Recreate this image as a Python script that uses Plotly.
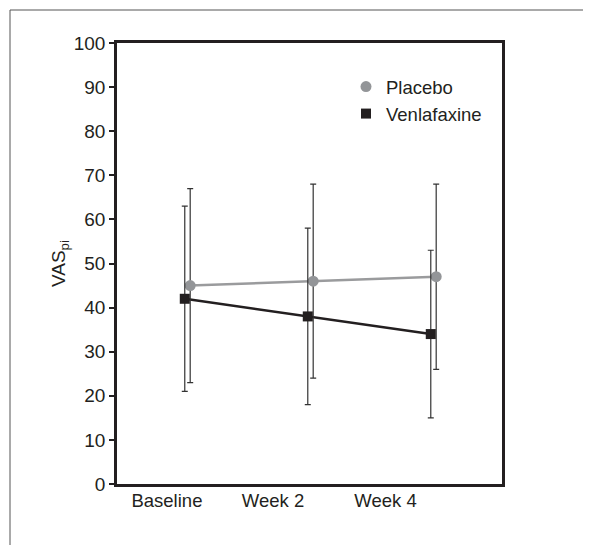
import plotly.graph_objects as go

categories = ["Baseline", "Week 2", "Week 4"]
placebo_mean = [45, 46, 47]
placebo_sd = [22, 22, 21]
venla_mean = [42, 38, 34]
venla_sd = [21, 20, 19]
y_ticks = [0, 10, 20, 30, 40, 50, 60, 70, 80, 90, 100]

pos = [0, 1, 2]
off = 0.022
x_plac = [p + off for p in pos]
x_venl = [p - off for p in pos]
label_pos = [-0.167, 0.695, 1.61]

FONT = "Liberation Sans, Arial, Helvetica, sans-serif"
DARK = "#231f20"
GRAY = "#939598"

fig = go.Figure()
# connecting lines
fig.add_trace(go.Scatter(x=x_plac, y=placebo_mean, mode="lines",
                         line=dict(color="#9a9b9d", width=2.5), showlegend=False, hoverinfo="skip"))
fig.add_trace(go.Scatter(x=x_venl, y=venla_mean, mode="lines",
                         line=dict(color=DARK, width=2.5), showlegend=False, hoverinfo="skip"))
# markers with error bars
fig.add_trace(go.Scatter(x=x_plac, y=placebo_mean, mode="markers", name="Placebo",
                         marker=dict(symbol="circle", size=11, color=GRAY),
                         error_y=dict(type="data", array=placebo_sd, visible=True,
                                      color="#333333", thickness=1.2, width=3)))
fig.add_trace(go.Scatter(x=x_venl, y=venla_mean, mode="markers", name="Venlafaxine",
                         marker=dict(symbol="square", size=10, color=DARK),
                         error_y=dict(type="data", array=venla_sd, visible=True,
                                      color="#333333", thickness=1.2, width=3)))

# page body margin offset (8px) compensated
O = 8
W, H = 591 - O, 545 - O
L, T = 117 - O, 43 - O
pw, ph = 385, 441
R = W - L - pw
B = H - T - ph

def px_x(x):
    return (x - O - L) / pw

def px_y(y):
    return (T + ph - (y - O)) / ph

fig.update_layout(
    width=W, height=H,
    margin=dict(l=L, r=R, t=T, b=B, autoexpand=False),
    paper_bgcolor="white", plot_bgcolor="white",
    font=dict(family=FONT, size=19, color=DARK),
    showlegend=True,
    legend=dict(x=px_x(346), y=px_y(68), xanchor="left", yanchor="top",
                bgcolor="rgba(0,0,0,0)", font=dict(size=18.5, color=DARK),
                tracegroupgap=0, itemsizing="trace"),
    xaxis=dict(range=[-0.573, 2.557], tickmode="array", tickvals=label_pos, ticktext=categories,
               showline=True, linecolor=DARK, linewidth=2.5, mirror=True,
               showgrid=False, zeroline=False, ticks="", ticklabelstandoff=-2,
               tickfont=dict(size=18.5, color=DARK)),
    yaxis=dict(range=[0, 100], tickmode="array", tickvals=y_ticks,
               showline=True, linecolor=DARK, linewidth=2.5, mirror=True,
               showgrid=False, zeroline=False, ticks="outside", ticklen=5, tickwidth=2,
               tickcolor=DARK, tickfont=dict(size=19, color=DARK),
               title=dict(text="VAS<sub>pi</sub>", font=dict(size=19, color=DARK), standoff=4)),
    shapes=[
        dict(type="line", xref="paper", yref="paper", x0=px_x(10), x1=px_x(600),
             y0=px_y(10), y1=px_y(10), line=dict(color="#555555", width=1)),
        dict(type="line", xref="paper", yref="paper", x0=px_x(10), x1=px_x(10),
             y0=px_y(10), y1=px_y(560), line=dict(color="#555555", width=1)),
    ],
)

fig.write_html("out.html")
